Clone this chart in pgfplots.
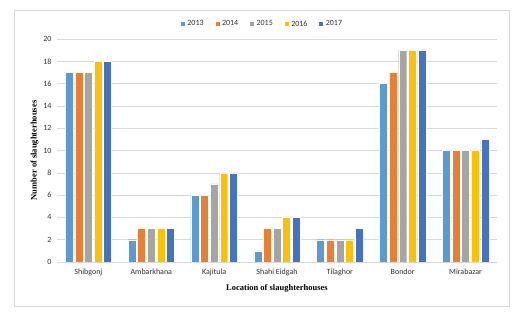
\documentclass[border=0pt]{standalone}
\usepackage{pgfplots}
\pgfplotsset{compat=1.18}
\usepackage{fontspec}
\setmainfont{Carlito}
\newfontfamily\serifb{Liberation Serif}
\definecolor{c13}{HTML}{5B9BD5}
\definecolor{c14}{HTML}{ED7D31}
\definecolor{c15}{HTML}{A5A5A5}
\definecolor{c16}{HTML}{FFC000}
\definecolor{c17}{HTML}{4472C4}
\definecolor{gridc}{HTML}{D9D9D9}
\begin{document}
\begin{tikzpicture}[x=1pt,y=1pt]
\useasboundingbox[fill=white] (0,0) rectangle (529,314);
\draw[gridc, line width=0.8pt] (14,8) rectangle (509,304);
\begin{axis}[
  at={(57pt,52pt)}, anchor=south west,
  scale only axis, width=440pt, height=223pt,
  ybar=1.6pt, bar width=8pt,
  xmin=-0.5, xmax=6.5, ymin=0, ymax=20,
  xtick={0,...,6},
  xticklabels={Shibgonj,Ambarkhana,Kajitula,Shahi Eidgah,Tilaghor,Bondor,Mirabazar},
  ytick={0,2,...,20},
  axis line style={draw=none},
  axis x line*=bottom,
  major tick length=0pt,
  ymajorgrids, grid style={gridc, line width=0.6pt},
  tick label style={font=\fontsize{8}{9}\selectfont, text=black!80},
  /pgf/number format/assume math mode=true,
  xticklabel style={yshift=-3pt},
  yticklabel style={xshift=-2pt},
  xlabel={\serifb\bfseries Location of slaughterhouses},
  ylabel={\serifb\bfseries Number of slaughterhouses},
  label style={font=\fontsize{8.5}{9}\selectfont},
  xlabel style={yshift=-2pt},
  ylabel style={yshift=-2pt},
  legend style={at={(0.466,1.067)}, anchor=center, draw=none, legend columns=-1,
    font=\fontsize{8}{9}\selectfont, text=black!80, /tikz/every even column/.append style={column sep=9pt}},
  legend image code/.code={\fill[#1] (0pt,-2.5pt) rectangle (5pt,2.5pt);},
  every axis plot/.append style={draw=white, line width=0.4pt},
]
\addplot[fill=c13] coordinates {(0,17) (1,2) (2,6) (3,1) (4,2) (5,16) (6,10)};
\addplot[fill=c14] coordinates {(0,17) (1,3) (2,6) (3,3) (4,2) (5,17) (6,10)};
\addplot[fill=c15] coordinates {(0,17) (1,3) (2,7) (3,3) (4,2) (5,19) (6,10)};
\addplot[fill=c16] coordinates {(0,18) (1,3) (2,8) (3,4) (4,2) (5,19) (6,10)};
\addplot[fill=c17] coordinates {(0,18) (1,3) (2,8) (3,4) (4,3) (5,19) (6,11)};
\legend{2013,2014,2015,2016,2017}
\draw[gridc, line width=0.8pt] (rel axis cs:0,0) -- (rel axis cs:1,0);
\end{axis}
\end{tikzpicture}
\end{document}
